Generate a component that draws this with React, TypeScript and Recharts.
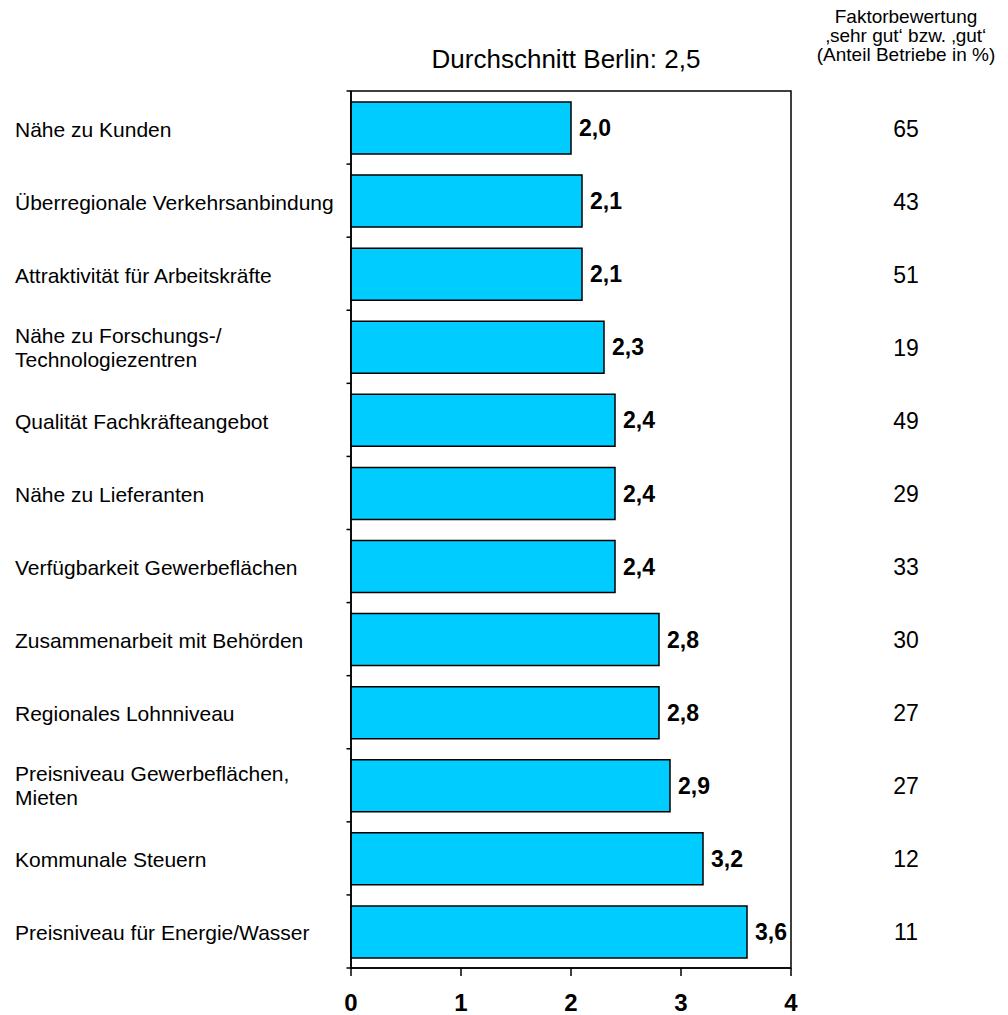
import React from "react";
import { BarChart, Bar, XAxis, YAxis, LabelList, ReferenceArea } from "recharts";

const categories = [
  "Nähe zu Kunden",
  "Überregionale Verkehrsanbindung",
  "Attraktivität für Arbeitskräfte",
  "Nähe zu Forschungs-/\nTechnologiezentren",
  "Qualität Fachkräfteangebot",
  "Nähe zu Lieferanten",
  "Verfügbarkeit Gewerbeflächen",
  "Zusammenarbeit mit Behörden",
  "Regionales Lohnniveau",
  "Preisniveau Gewerbeflächen,\nMieten",
  "Kommunale Steuern",
  "Preisniveau für Energie/Wasser",
];
const scores = [2.0, 2.1, 2.1, 2.3, 2.4, 2.4, 2.4, 2.8, 2.8, 2.9, 3.2, 3.6];
const sharePercent = [65, 43, 51, 19, 49, 29, 33, 30, 27, 27, 12, 11];
const xTicks = [0, 1, 2, 3, 4];
const titleText = "Durchschnitt Berlin: 2,5";
const headerLines = ["Faktorbewertung", "\u201Asehr gut\u2018 bzw. \u201Agut\u2018", "(Anteil Betriebe in %)"];

const data = categories.map((name, i) => ({ name, score: scores[i], share: sharePercent[i] }));

const W = 1008;
const H = 1015;
const M_TOP = 91;
const M_LEFT = 291;
const M_RIGHT = 217;
const Y_W = 60;
const X_H = 47;
const PLOT_LEFT = M_LEFT + Y_W;
const PLOT_H = H - M_TOP - X_H;
const BAND = PLOT_H / categories.length;
const FONT = '"Liberation Sans", Arial, Helvetica, sans-serif';

const fmt = (v: any) => Number(v).toFixed(1).replace(".", ",");

const YTick = (props: any) => {
  const { y, index, payload } = props;
  const name: string = String(payload.value);
  const lines = name.split("\n");
  const share = sharePercent[index];
  const isLast = index === categories.length - 1;
  return (
    <g>
      <line x1={PLOT_LEFT - 4.5} x2={PLOT_LEFT} y1={y - BAND / 2} y2={y - BAND / 2} stroke="#000" strokeWidth={1.5} />
      {isLast && (
        <line x1={PLOT_LEFT - 4.5} x2={PLOT_LEFT} y1={y + BAND / 2} y2={y + BAND / 2} stroke="#000" strokeWidth={1.5} />
      )}
      {lines.length === 1 ? (
        <text x={15} y={y + 9} fontSize={21} fill="#000" fontFamily={FONT}>
          {lines[0]}
        </text>
      ) : (
        <text x={15} y={y - 4} fontSize={21} fill="#000" fontFamily={FONT}>
          <tspan x={15}>{lines[0]}</tspan>
          <tspan x={15} dy={24}>{lines[1]}</tspan>
        </text>
      )}
      <text x={906} y={y + 9} fontSize={23} fill="#000" textAnchor="middle" fontFamily={FONT}>
        {share}
      </text>
    </g>
  );
};

export default function App() {
  return (
    <div style={{ position: "absolute", left: 0, top: 0, width: W, height: H, background: "#fff", fontFamily: FONT }}>
      <BarChart
        width={W}
        height={H}
        data={data}
        layout="vertical"
        margin={{ top: M_TOP, right: M_RIGHT, bottom: 0, left: M_LEFT }}
        barCategoryGap={0}
      >
        <XAxis
          type="number"
          domain={[0, 4]}
          ticks={xTicks}
          tickFormatter={(v: any) => String(v)}
          height={X_H}
          tickSize={8}
          tickMargin={18}
          axisLine={{ stroke: "#000", strokeWidth: 1.5 }}
          tickLine={{ stroke: "#000", strokeWidth: 1.5 }}
          tick={{ fontSize: 24, fontWeight: "bold", fill: "#000", fontFamily: FONT }}
        />
        <YAxis
          type="category"
          dataKey="name"
          width={Y_W}
          interval={0}
          tickLine={false}
          axisLine={{ stroke: "#000", strokeWidth: 1.5 }}
          tick={(p: any) => <YTick {...p} />}
        />
        <ReferenceArea x1={0} x2={4} stroke="#000" strokeWidth={1.5} fill="none" fillOpacity={0} />
        <Bar dataKey="score" fill="#00CCFF" stroke="#000" strokeWidth={1.5} barSize={52} isAnimationActive={false}>
          <LabelList
            dataKey="score"
            position="right"
            offset={8}
            formatter={fmt}
            style={{ fontSize: 23, fontWeight: "bold", fill: "#000", fontFamily: FONT }}
          />
        </Bar>
      </BarChart>
      <svg width={W} height={H} style={{ position: "absolute", left: 0, top: 0, pointerEvents: "none" }}>
        <text x={566} y={68} fontSize={26} textAnchor="middle" fill="#000" fontFamily={FONT}>
          {titleText}
        </text>
        {headerLines.map((t, i) => (
          <text key={i} x={906} y={23 + i * 19} fontSize={19} textAnchor="middle" fill="#000" fontFamily={FONT}>
            {t}
          </text>
        ))}
      </svg>
    </div>
  );
}
